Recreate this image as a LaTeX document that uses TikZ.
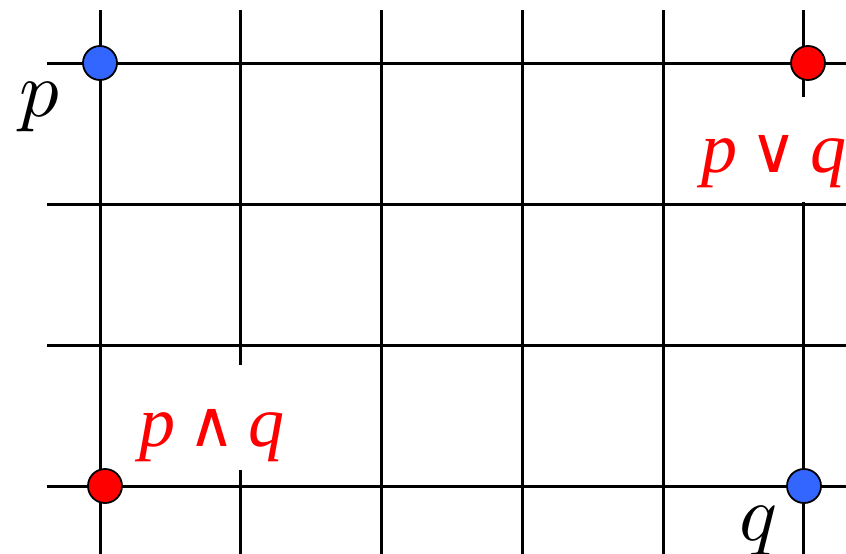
\documentclass[tikz,border=0pt]{standalone}
\usepackage{fontspec}
\newfontfamily\labfont{Liberation Serif}
\newfontfamily\symfont{DejaVu Sans}
\definecolor{dotblue}{HTML}{3366FF}
\definecolor{dotred}{HTML}{FF0000}
\tikzset{
  gridline/.style={line width=3pt, black},
  dot/.style={circle, draw=black, line width=1.8pt, minimum size=34pt, inner sep=0pt},
  bluedot/.style={dot, fill=dotblue},
  reddot/.style={dot, fill=dotred},
  blacklab/.style={inner sep=0pt, anchor=base west},
  redlab/.style={inner sep=0pt, anchor=base west, text=dotred, font=\labfont\itshape\fontsize{72}{74}\selectfont}
}
\newcommand{\opsym}[1]{{\symfont\upshape\fontsize{64}{64}\selectfont #1}}
\begin{document}
\begin{tikzpicture}[x=1pt, y=-1pt]
\useasboundingbox (0,0) rectangle (846,554);
% vertical lines
\foreach \x in {100,381,522,663} \draw[gridline] (\x,10) -- (\x,554);
\draw[gridline] (240,10) -- (240,365);
\draw[gridline] (240,470) -- (240,554);
\draw[gridline] (803,10) -- (803,97);
\draw[gridline] (803,202) -- (803,554);
% horizontal lines
\foreach \y in {63,204,345,486} \draw[gridline] (47,\y) -- (846,\y);
% dots
\node[bluedot] (p) at (100,63) {};
\node[reddot] (or) at (808,63) {};
\node[reddot] (and) at (105,486) {};
\node[bluedot] (q) at (804,486) {};
% labels
\node[blacklab] (plab) at (19,116) {\scalebox{7.9}{$p$}};
\node[blacklab] (qlab) at (739,540) {\scalebox{7.9}{$q$}};
\node[redlab] (andlab) at (139,446) {p\hspace{13pt}\opsym{∧}\hspace{13pt}q};
\node[redlab] (orlab) at (701,172) {p\hspace{13pt}\opsym{∨}\hspace{13pt}q};
\end{tikzpicture}
\end{document}
